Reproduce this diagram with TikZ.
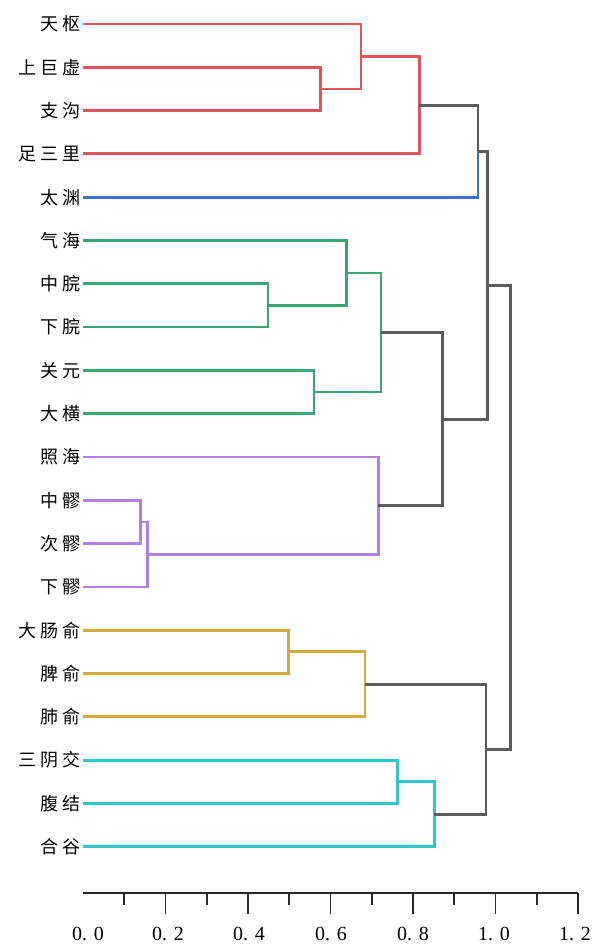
\documentclass[tikz,border=0pt]{standalone}
\usepackage{fontspec}
\usepackage{xcolor}
\usetikzlibrary{calc}
\newfontfamily\cjk[LetterSpace=20]{Noto Sans CJK SC}
\newfontfamily\axfont{Liberation Serif}

\definecolor{cred}{RGB}{226,84,90}
\definecolor{cblue}{RGB}{58,114,212}
\definecolor{cgreen}{RGB}{58,166,118}
\definecolor{cpurple}{RGB}{178,128,224}
\definecolor{cyellow}{RGB}{212,170,60}
\definecolor{ccyan}{RGB}{44,200,204}
\definecolor{cgrey}{RGB}{92,92,92}

\tikzset{
  leaf/.style={anchor=east, inner xsep=2pt, inner ysep=0pt, font=\cjk\fontsize{13.5}{15}\selectfont},
  ln/.style={line width=2.1pt, line join=miter},
  axis/.style={line width=1.8pt, draw={rgb,255:red,40;green,40;blue,40}},
  tick/.style={line width=1.2pt, draw={rgb,255:red,40;green,40;blue,40}},
  ticklabel/.style={inner sep=0pt, font=\axfont\fontsize{15}{17}\selectfont}
}

\begin{document}
\begin{tikzpicture}[x=0.75pt,y=0.75pt,yscale=-1,xscale=1]
\useasboundingbox (0,0) rectangle (593,944);

% Leaf labels
\node[leaf] (t1) at (83,24) {天枢};
\node[leaf] (t2) at (83,67.3) {上巨虚};
\node[leaf] (t3) at (83,110.6) {支沟};
\node[leaf] (t4) at (83,153.9) {足三里};
\node[leaf] (t5) at (83,197.2) {太渊};
\node[leaf] (t6) at (83,240.5) {气海};
\node[leaf] (t7) at (83,283.8) {中脘};
\node[leaf] (t8) at (83,327.1) {下脘};
\node[leaf] (t9) at (83,370.4) {关元};
\node[leaf] (t10) at (83,413.7) {大横};
\node[leaf] (t11) at (83,457) {照海};
\node[leaf] (t12) at (83,500.3) {中髎};
\node[leaf] (t13) at (83,543.6) {次髎};
\node[leaf] (t14) at (83,586.9) {下髎};
\node[leaf] (t15) at (83,630.2) {大肠俞};
\node[leaf] (t16) at (83,673.5) {脾俞};
\node[leaf] (t17) at (83,716.8) {肺俞};
\node[leaf] (t18) at (83,760.1) {三阴交};
\node[leaf] (t19) at (83,803.4) {腹结};
\node[leaf] (t20) at (83,846.7) {合谷};

% Merge points
\coordinate (m1) at (320.7,88.95);
\coordinate (m2) at (361,56.5);
\coordinate (m3) at (419.3,105.2);
\coordinate (m4) at (478,151.2);
\coordinate (g1) at (268,305.45);
\coordinate (g2) at (346.7,273);
\coordinate (g3) at (314,392.05);
\coordinate (g4) at (381,332.5);
\coordinate (p1) at (140.3,521.95);
\coordinate (p2) at (147.7,554.4);
\coordinate (p3) at (378.3,505.7);
\coordinate (y1) at (288.7,651.85);
\coordinate (y2) at (365,684.3);
\coordinate (c1) at (397.3,781.75);
\coordinate (c2) at (434.3,814.2);
\coordinate (k1) at (442.3,419.1);
\coordinate (k2) at (487.3,285.15);
\coordinate (k3) at (486,749.25);
\coordinate (k4) at (510.5,517.2);

% Links: child -> merge, one half each
\foreach \a/\m in {t2.east/m1, t3.east/m1, t1.east/m2, m1/m2, m2/m3, t4.east/m3}
  \draw[ln, cred] (\a) -- (\a -| \m) -- (\m);
\draw[ln, cblue] (t5.east) -- (t5.east -| m4) -- (m4);
\foreach \a/\m in {t7.east/g1, t8.east/g1, t6.east/g2, g1/g2, t9.east/g3, t10.east/g3, g2/g4, g3/g4}
  \draw[ln, cgreen] (\a) -- (\a -| \m) -- (\m);
\foreach \a/\m in {t12.east/p1, t13.east/p1, p1/p2, t14.east/p2, t11.east/p3, p2/p3}
  \draw[ln, cpurple] (\a) -- (\a -| \m) -- (\m);
\foreach \a/\m in {t15.east/y1, t16.east/y1, y1/y2, t17.east/y2}
  \draw[ln, cyellow] (\a) -- (\a -| \m) -- (\m);
\foreach \a/\m in {t18.east/c1, t19.east/c1, c1/c2, t20.east/c2}
  \draw[ln, ccyan] (\a) -- (\a -| \m) -- (\m);
\foreach \a/\m in {m3/m4, m4/k2, g4/k1, p3/k1, k1/k2, y2/k3, c2/k3, k2/k4, k3/k4}
  \draw[ln, cgrey] (\a) -- (\a -| \m) -- (\m);

% Axis
\coordinate (ax0) at (83,893);
\coordinate (ax1) at (578,893);
\draw[axis] (ax0) -- (ax1);
\foreach \k in {1,3,...,11}
  \draw[tick] ($(ax0)+(41.25*\k,0)$) -- ++(0,12);
\foreach \k in {2,4,...,12}
  \draw[tick] ($(ax0)+(41.25*\k,0)$) -- ++(0,21);
\foreach \v/\lx [count=\i] in {0. 0/88, 0. 2/168, 0. 4/249, 0. 6/331, 0. 8/413, 1. 0/494, 1. 2/575}
  \node[ticklabel] (lab\i) at (\lx,934) {\v};

\end{tikzpicture}
\end{document}
